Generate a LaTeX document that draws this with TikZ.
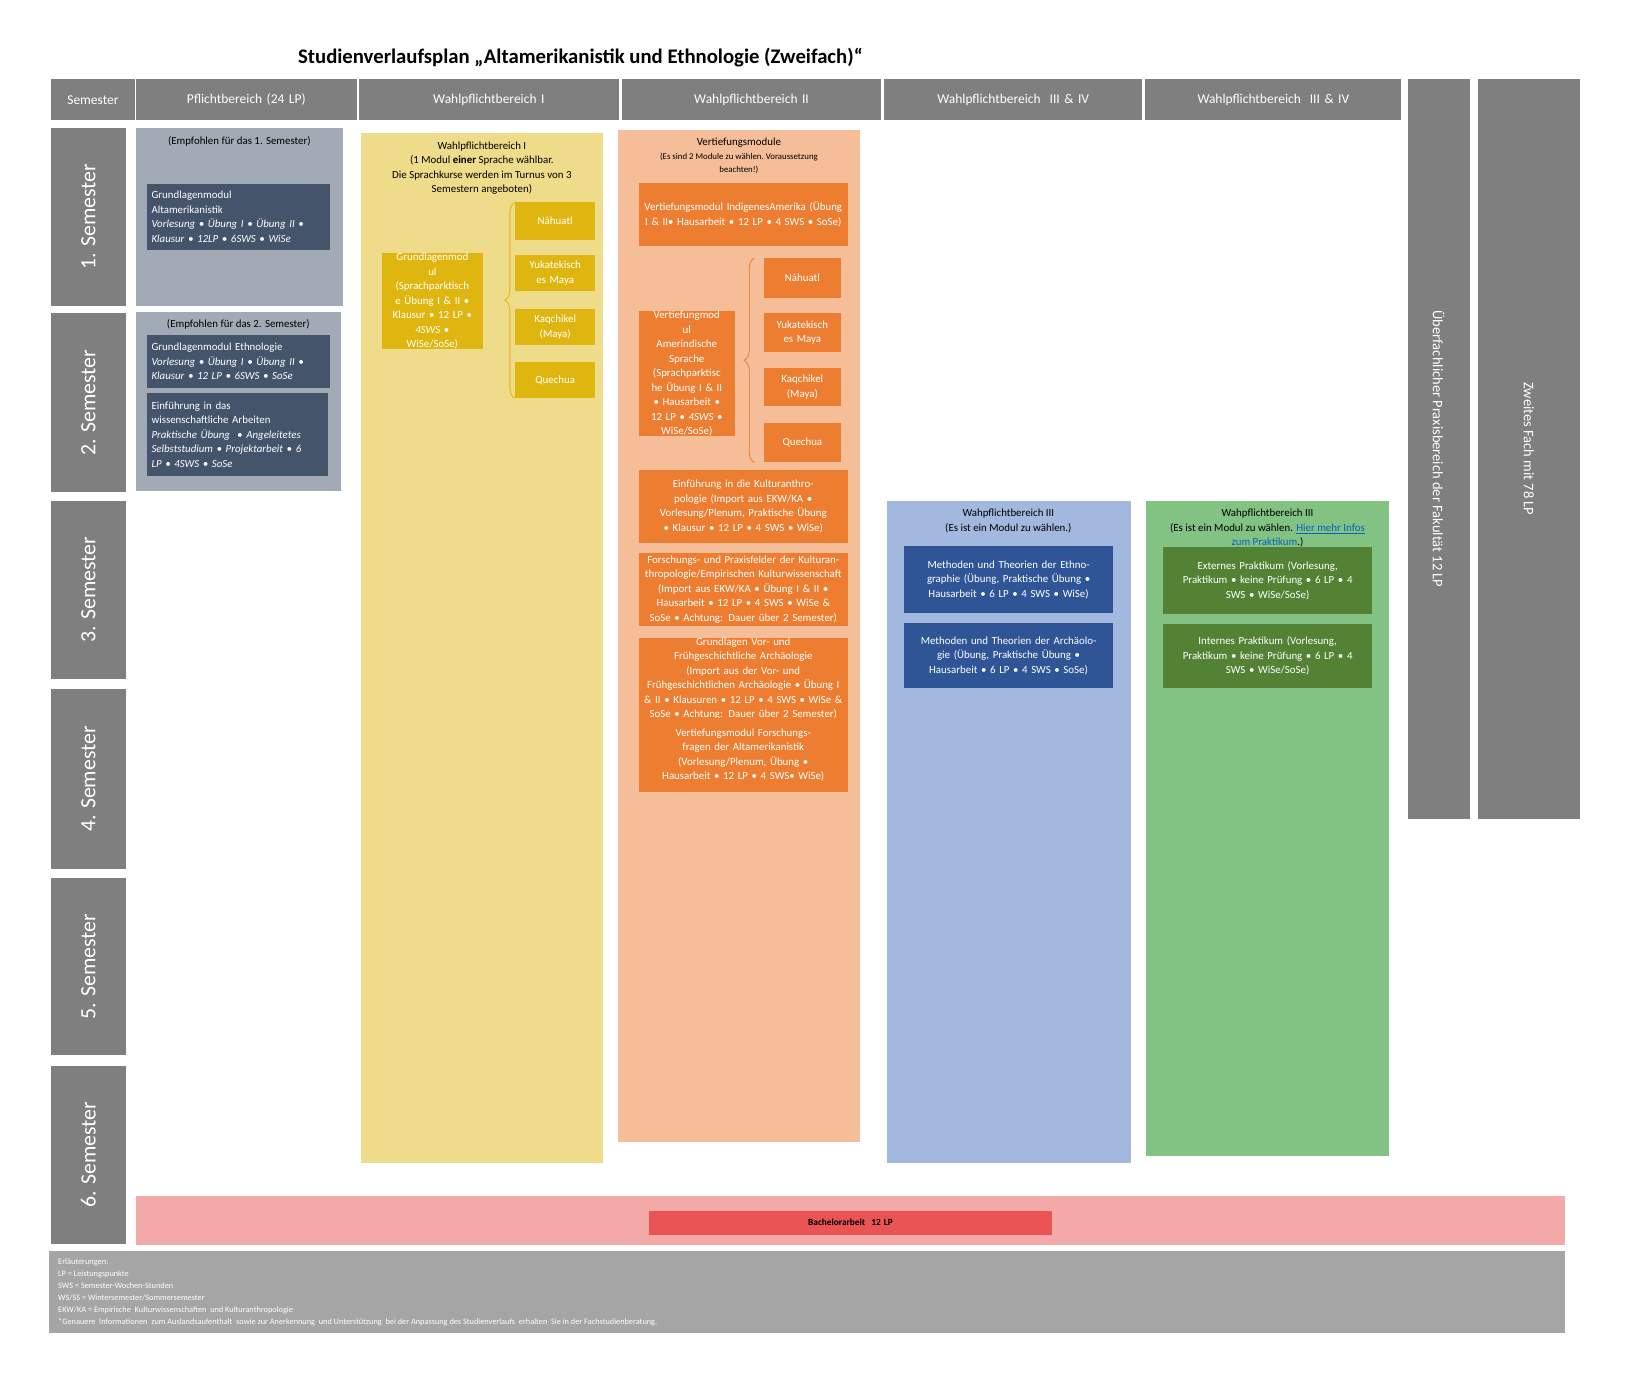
\documentclass[tikz,border=0pt]{standalone}
\usepackage{fontspec}
\setmainfont{Carlito}
\usetikzlibrary{decorations.pathreplacing}
\definecolor{hdr}{HTML}{7F7F7F}
\definecolor{pfl}{HTML}{A2AAB6}
\definecolor{pfld}{HTML}{44546A}
\definecolor{ylw}{HTML}{EFDC8A}
\definecolor{ylwd}{HTML}{DFB60F}
\definecolor{org}{HTML}{F5BE99}
\definecolor{orgd}{HTML}{ED7D31}
\definecolor{blu}{HTML}{A3B8DF}
\definecolor{blud}{HTML}{2F5597}
\definecolor{grn}{HTML}{82C282}
\definecolor{grnd}{HTML}{548235}
\definecolor{pnk}{HTML}{F4A9A9}
\definecolor{redd}{HTML}{EA5455}
\definecolor{ftr}{HTML}{A5A5A5}
\definecolor{lnk}{HTML}{0563C1}
\newcommand\bx[7][]{\pgfmathsetmacro\tw{#5-#3-8}\node[inner sep=0pt,anchor=north west,minimum width=#5pt-#3pt,minimum height=#6pt-#4pt,text width=\tw pt,align=center,#1] (#2) at (#3,#4) {#7};}
\tikzset{
 hd/.style={fill=hdr,text=white,font=\fontsize{13}{15}\selectfont},
 sm/.style={font=\fontsize{10.5}{14}\selectfont},
 wt/.style={text=white,font=\fontsize{10.5}{14}\selectfont},
 brc/.style={decorate,decoration={brace,amplitude=10pt},line width=0.8pt},
}
\begin{document}
\begin{tikzpicture}[x=1pt,y=-1pt]
\useasboundingbox[fill=white] (0,0) rectangle (1568,1349);
\node[font=\bfseries\fontsize{20}{24}\selectfont] (title) at (560,56) {Studienverlaufsplan „Altamerikanistik und Ethnologie (Zweifach)“};
% header
\bx[hd]{h0}{49}{76}{130}{116}{Semester}
\bx[hd]{h1}{131}{76}{344}{116}{Pflichtbereich (24 LP)}
\bx[hd]{h2}{346}{76}{597}{116}{Wahlpflichtbereich I}
\bx[hd]{h3}{600}{76}{850}{116}{Wahlpflichtbereich II}
\bx[hd]{h4}{853}{76}{1102}{116}{Wahlpflichtbereich\ \ III \& IV}
\bx[hd]{h5}{1105}{76}{1352}{116}{Wahlpflichtbereich\ \ III \& IV}
\bx[fill=hdr]{r1}{1358}{76}{1418}{790}{}
\node[rotate=-90,text=white,font=\fontsize{14}{16}\selectfont] (r1t) at (r1.center) {Überfachlicher Praxisbereich der Fakultät 12 LP};
\bx[fill=hdr]{r2}{1426}{76}{1524}{790}{}
\node[rotate=-90,text=white,font=\fontsize{14}{16}\selectfont] (r2t) at (r2.center) {Zweites Fach mit 78 LP};
% semesters
\foreach \n/\a/\b in {1/123/295,2/302/475,3/483/655,4/665/838,5/847/1018,6/1028/1200}{
 \bx[fill=hdr]{s\n}{49}{\a}{121}{\b}{}
 \node[rotate=90,text=white,font=\fontsize{21}{24}\selectfont] (s\n t) at (s\n.center) {\n. Semester};
}
% Pflicht
\bx[fill=pfl]{p1}{131}{123}{331}{295}{}
\node[sm,anchor=north] (p1t) at (231,128) {(Empfohlen für das 1. Semester)};
\bx[fill=pfl]{p2}{131}{301}{329}{474}{}
\node[sm,anchor=north] (p2t) at (230,305) {(Empfohlen für das 2. Semester)};
\bx[fill=pfld,wt,align=left]{pa}{142}{177}{318}{241}{Grundlagenmodul\\Altamerikanistik\\\textit{Vorlesung • Übung I • Übung II •}\\\textit{Klausur • 12LP • 6SWS • WiSe}}
\bx[fill=pfld,wt,align=left]{pb}{142}{323}{318}{374}{Grundlagenmodul Ethnologie\\\textit{Vorlesung • Übung I • Übung II •}\\\textit{Klausur • 12 LP • 6SWS • SoSe}}
\bx[fill=pfld,wt,align=left]{pc}{142}{379}{316}{459}{Einführung in das\\wissenschaftliche Arbeiten\\\textit{Praktische Übung \ • Angeleitetes}\\\textit{Selbststudium • Projektarbeit • 6}\\\textit{LP • 4SWS • SoSe}}
% WP I
\bx[fill=ylw]{w1}{348}{128}{582}{1122}{}
\node[sm,align=center,anchor=north] (w1t) at (465,133) {Wahlpflichtbereich I\\(1 Modul \textbf{einer} Sprache wählbar.\\Die Sprachkurse werden im Turnus von 3\\Semestern angeboten)};
\bx[fill=ylwd,wt]{wg}{368}{244}{466}{334}{Grundlagenmod\\ul\\(Sprachparktisch\\e Übung I \& II •\\Klausur • 12 LP •\\\textit{4SWS} •\\WiSe/SoSe)}
\bx[fill=ylwd,wt]{wl1}{497}{195}{574}{231}{Náhuatl}
\bx[fill=ylwd,wt]{wl2}{497}{246}{574}{281}{Yukatekisch\\es Maya}
\bx[fill=ylwd,wt]{wl3}{497}{298}{574}{333}{Kaqchikel\\(Maya)}
\bx[fill=ylwd,wt]{wl4}{497}{349}{574}{384}{Quechua}
\draw[brc,ylwd] (wl4.south west) -- (wl1.north west);
% WP II
\bx[fill=org]{w2}{596}{125}{830}{1102}{}
\node[align=center,anchor=north,font=\fontsize{10.5}{13}\selectfont] (w2t) at (713,130) {Vertiefungsmodule\\\fontsize{8.5}{13}\selectfont (Es sind\ 2 Module\ zu wählen.\ Voraussetzung\\\fontsize{8.5}{13}\selectfont beachten!)};
\bx[fill=orgd,wt]{v1}{616}{176}{818}{237}{Vertiefungsmodul IndigenesAmerika (Übung\ I \& II• Hausarbeit • 12 LP •\ 4 SWS • SoSe)}
\bx[fill=orgd,wt]{v2}{616}{300}{709}{393}{Vertiefungmod\\ul\\Amerindische\\Sprache\\(Sprachparktisc\\he Übung I \& II\\• Hausarbeit •\\12 LP • \textit{4SWS} •\\WiSe/SoSe)}
\bx[fill=orgd,wt]{vl1}{737}{249}{811}{287}{Náhuatl}
\bx[fill=orgd,wt]{vl2}{737}{302}{811}{339}{Yukatekisch\\es Maya}
\bx[fill=orgd,wt]{vl3}{737}{355}{811}{392}{Kaqchikel\\(Maya)}
\bx[fill=orgd,wt]{vl4}{737}{408}{811}{446}{Quechua}
\draw[brc,orgd] ([xshift=-9pt]vl4.south west) -- ([xshift=-9pt]vl1.north west);
\bx[fill=orgd,wt]{v3}{616}{453}{818}{524}{Einführung in die Kulturanthropologie (Import aus EKW/KA •\\Vorlesung/Plenum, Praktische Übung\\•\ Klausur •\ 12 LP •\ 4 SWS • WiSe)}
\bx[fill=orgd,wt]{v4}{616}{533}{818}{604}{Forschungs- und Praxisfelder der Kulturanthropologie/Empirischen Kulturwissenschaft (Import aus EKW/KA • Übung I \& II • Hausarbeit • 12 LP • 4 SWS • WiSe \& SoSe • Achtung: Dauer über 2 Semester)}
\bx[fill=orgd,wt]{v5}{616}{615}{818}{687}{Grundlagen Vor- und Frühgeschichtliche Archäologie\\(Import aus der Vor- und Frühgeschichtlichen Archäologie • Übung I \& II •\ Klausuren •\ 12 LP •\ 4 SWS • WiSe \& SoSe • Achtung: Dauer über 2 Semester)}
\bx[fill=orgd,wt]{v6}{616}{693}{818}{764}{Vertiefungsmodul Forschungsfragen der Altamerikanistik\\(Vorlesung/Plenum, Übung •\\Hausarbeit •\ 12 LP •\ 4 SWS• WiSe)}
% WP III blue
\bx[fill=blu]{w3}{856}{483}{1091}{1122}{}
\node[sm,align=center,anchor=north] (w3t) at (973,488) {Wahpflichtbereich III\\(Es ist ein Modul zu wählen.)};
\bx[fill=blud,wt]{b1}{872}{527}{1074}{591}{Methoden und Theorien der Ethnographie (Übung, Praktische Übung • Hausarbeit • 6 LP •\ 4 SWS • WiSe)}
\bx[fill=blud,wt]{b2}{872}{601}{1074}{664}{Methoden und Theorien der Archäologie (Übung, Praktische Übung • Hausarbeit • 6 LP •\ 4 SWS • SoSe)}
% WP green
\bx[fill=grn]{w4}{1106}{483}{1340}{1115}{}
\node[sm,align=center,anchor=north] (w4t) at (1223,488) {Wahpflichtbereich III\\(Es ist ein Modul zu wählen. \textcolor{lnk}{\underline{Hier mehr Infos}}\\\textcolor{lnk}{\underline{zum Praktikum}}.)};
\bx[fill=grnd,wt]{g1}{1122}{528}{1324}{592}{Externes Praktikum (Vorlesung,\\Praktikum • keine Prüfung • 6 LP •\ 4\\SWS • WiSe/SoSe)}
\bx[fill=grnd,wt]{g2}{1122}{602}{1324}{664}{Internes Praktikum (Vorlesung,\\Praktikum • keine Prüfung • 6 LP •\ 4\\SWS • WiSe/SoSe)}
% Bachelor
\bx[fill=pnk]{ba}{131}{1154}{1510}{1201}{}
\bx[fill=redd,font=\bfseries\fontsize{9}{11}\selectfont]{bb}{626}{1168}{1015}{1191}{Bachelorarbeit\ \ 12 LP}
% footer
\bx[fill=ftr]{ft}{47}{1207}{1510}{1286}{}
\node[anchor=north west,align=left,text=white,font=\fontsize{8}{11.7}\selectfont,inner sep=0pt] (ftt) at (56,1214) {Erläuterungen:\\LP = Leistungspunkte\\SWS = Semester-Wochen-Stunden\\WS/SS = Wintersemester/Sommersemester\\EKW/KA = Empirische\ \ Kulturwissenschaften\ \ und Kulturanthropologie\\*Genauere\ \ Informationen\ \ zum Auslandsaufenthalt\ \ sowie zur Anerkennung\ \ und Unterstützung\ \ bei der Anpassung des Studienverlaufs\ \ erhalten\ \ Sie in der Fachstudienberatung.};
\end{tikzpicture}
\end{document}
